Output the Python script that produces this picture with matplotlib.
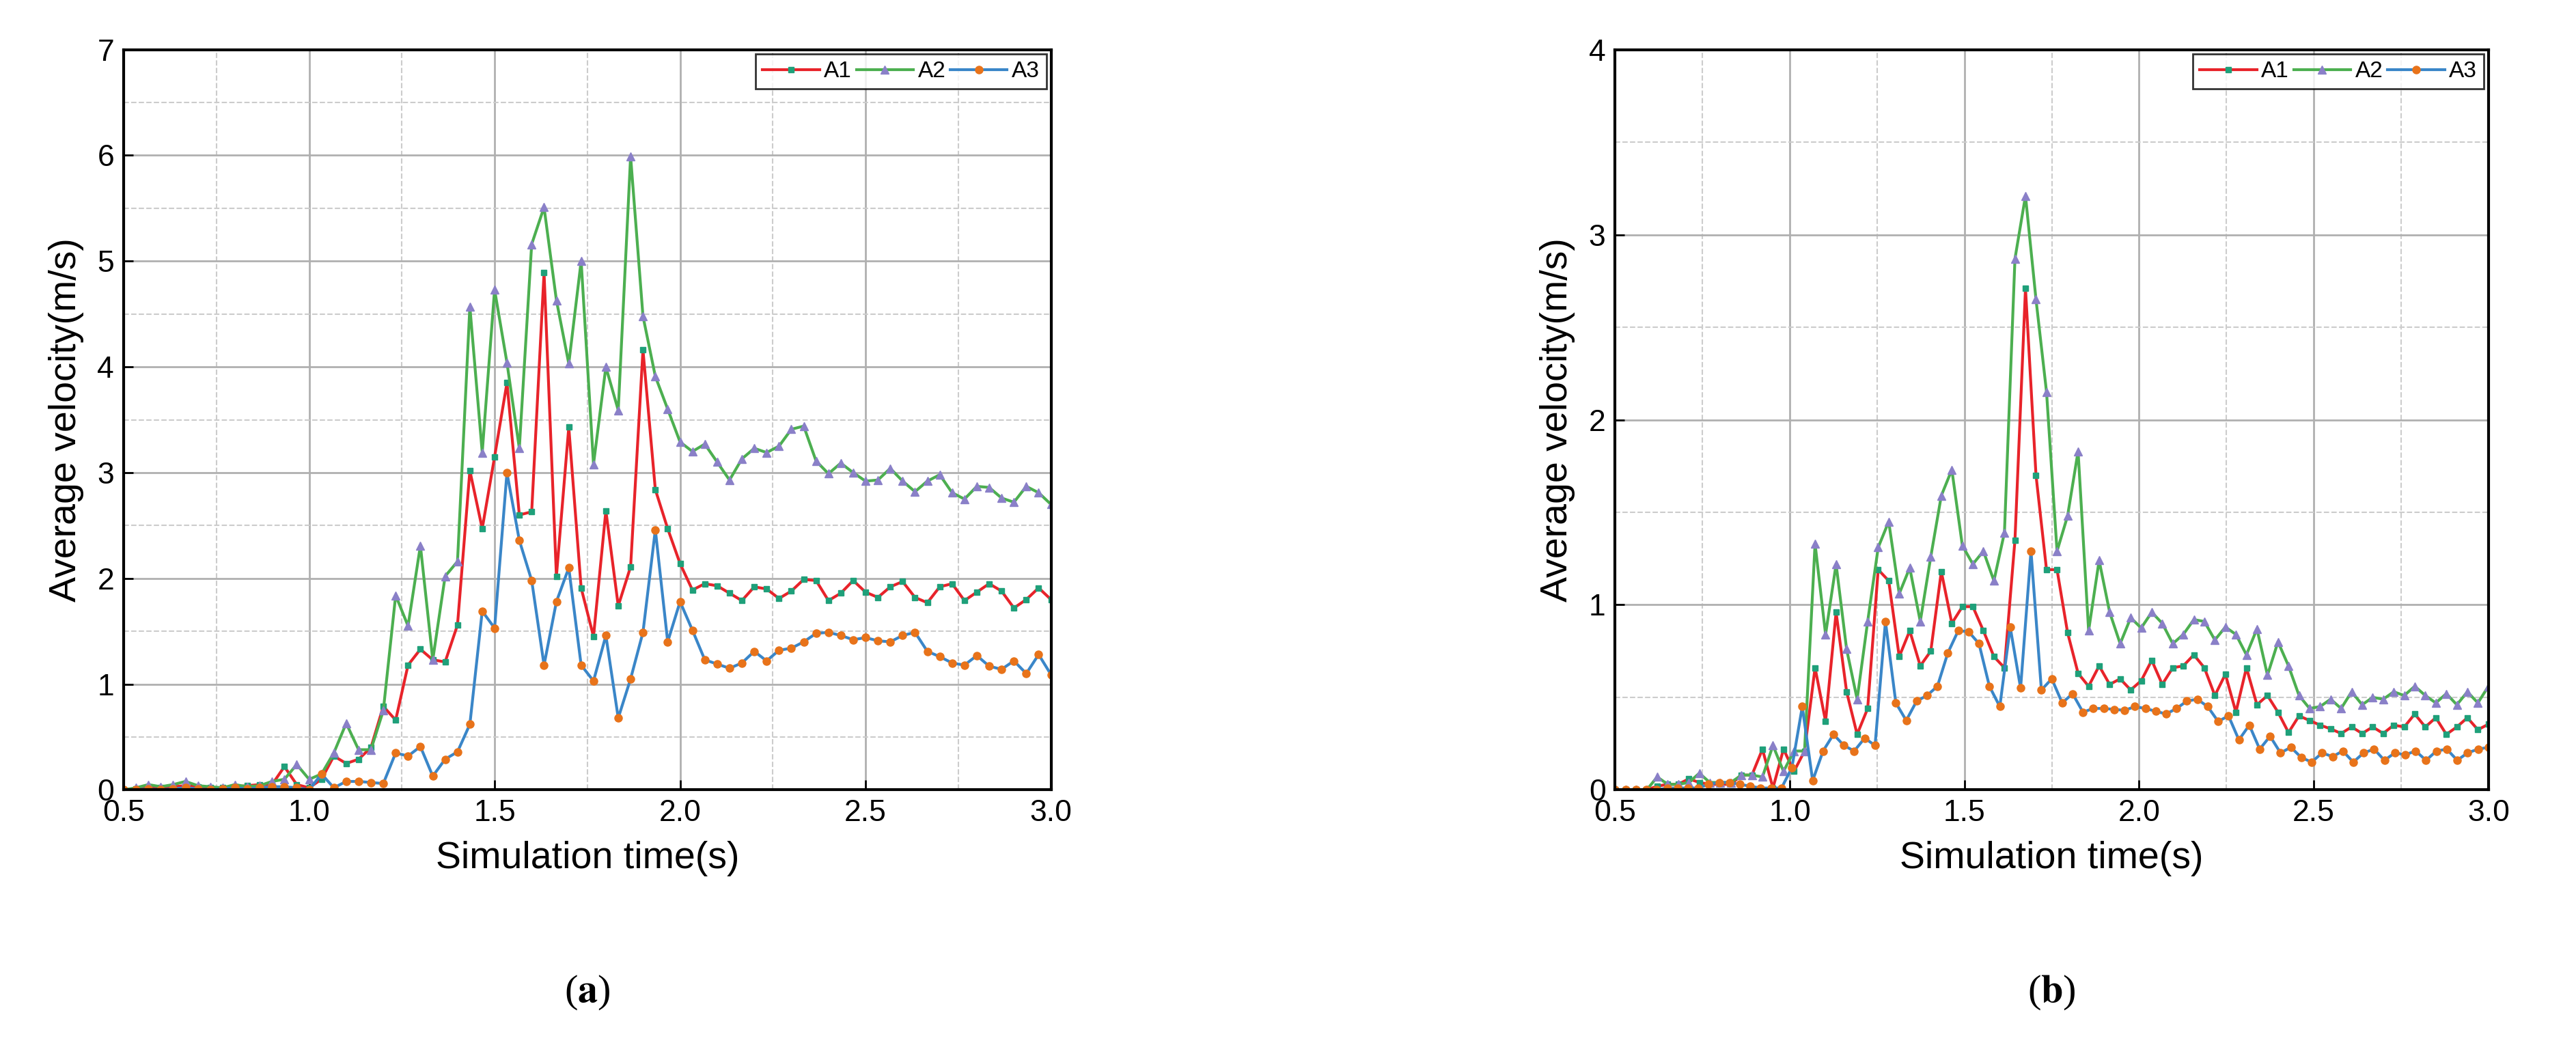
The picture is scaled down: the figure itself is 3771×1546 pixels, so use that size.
import numpy as np
import matplotlib
matplotlib.use("Agg")
import matplotlib.pyplot as plt
from matplotlib.ticker import MultipleLocator, FormatStrFormatter

# ---------- data panel (a): sampled every 1/30 s from 0.5 to 3.0 ----------
a_A1 = [0,0.01,0.02,0.02,0.03,0.04,0.03,0.02,0.02,0.03,0.04,0.05,0.05,0.22,0.05,0.02,0.1,0.32,0.25,0.29,0.4,0.79,
        0.66,1.18,1.33,1.23,1.21,1.56,3.02,2.47,3.15,3.85,2.6,2.63,4.89,2.02,3.43,1.91,1.45,2.64,1.74,2.11,
        4.16,2.84,2.47,2.14,1.89,1.95,1.93,1.86,1.79,1.92,1.9,1.81,1.88,1.99,1.98,1.79,1.86,1.98,1.87,1.82,
        1.92,1.97,1.82,1.77,1.92,1.95,1.79,1.87,1.95,1.88,1.72,1.8,1.91,1.8]
a_A2 = [0,0.02,0.05,0.03,0.05,0.08,0.04,0.03,0.02,0.05,0.03,0.04,0.08,0.1,0.24,0.1,0.15,0.35,0.63,0.38,0.38,0.75,
        1.84,1.55,2.31,1.23,2.02,2.16,4.57,3.19,4.73,4.04,3.23,5.16,5.51,4.63,4.03,5.0,3.08,4.0,3.59,5.99,
        4.48,3.91,3.6,3.29,3.2,3.27,3.1,2.93,3.13,3.23,3.19,3.25,3.41,3.44,3.11,2.99,3.09,3.0,2.92,2.93,
        3.04,2.92,2.82,2.92,2.98,2.81,2.75,2.87,2.86,2.76,2.72,2.87,2.81,2.7]
a_A3 = [0,0,0.01,0,0.01,0.02,0.01,0,0.01,0.02,0.01,0.02,0.03,0.03,0.02,0.0,0.15,0.02,0.08,0.08,0.07,0.06,
        0.35,0.32,0.41,0.13,0.29,0.36,0.62,1.69,1.53,3.0,2.36,1.98,1.18,1.78,2.1,1.18,1.03,1.46,0.68,1.05,
        1.49,2.46,1.4,1.78,1.51,1.23,1.19,1.15,1.2,1.31,1.22,1.32,1.34,1.4,1.48,1.49,1.46,1.42,1.44,1.41,
        1.4,1.46,1.49,1.31,1.26,1.2,1.18,1.27,1.17,1.14,1.22,1.1,1.28,1.09]

# ---------- data panel (b): sampled every ~0.03 s from 0.5 to 3.0 ----------
b_A1 = [0,0,0,0,0.02,0.03,0.03,0.06,0.04,0.03,0.03,0.03,0.08,0.08,0.22,0.01,0.22,0.1,0.21,
        0.66,0.37,0.96,0.53,0.3,0.44,1.19,1.13,0.72,0.86,0.67,0.75,1.18,0.9,0.99,0.99,0.86,0.72,0.66,1.35,
        2.71,1.70,1.19,1.19,0.85,0.63,0.56,0.67,0.57,0.6,0.54,0.59,0.7,0.57,0.66,0.67,0.73,0.66,0.51,0.625,
        0.42,0.66,0.46,0.51,0.42,0.31,0.4,0.375,0.35,0.33,0.305,0.34,0.305,0.34,0.305,0.35,0.34,0.41,0.34,0.39,
        0.3,0.34,0.39,0.325,0.355]
b_A2 = [0,0,0,0,0.07,0.03,0.03,0.04,0.09,0.04,0.04,0.04,0.08,0.08,0.07,0.24,0.1,0.21,0.21,
        1.33,0.84,1.22,0.76,0.49,0.91,1.31,1.45,1.06,1.2,0.91,1.26,1.59,1.73,1.32,1.22,1.29,1.13,1.39,2.87,
        3.21,2.65,2.15,1.29,1.48,1.83,0.86,1.24,0.96,0.79,0.93,0.875,0.96,0.9,0.79,0.84,0.92,0.91,0.81,0.88,
        0.84,0.73,0.87,0.62,0.80,0.67,0.51,0.44,0.45,0.49,0.44,0.53,0.46,0.5,0.49,0.53,0.51,0.56,0.51,0.47,
        0.52,0.46,0.53,0.47,0.56]
b_A3 = [0,0,0,0,0,0.01,0.01,0.01,0.01,0.03,0.04,0.04,0.03,0.02,0.01,0.01,0.01,0.12,0.45,
        0.05,0.21,0.3,0.24,0.21,0.28,0.24,0.91,0.47,0.375,0.48,0.51,0.56,0.74,0.86,0.855,0.79,0.56,0.45,0.88,
        0.55,1.29,0.54,0.6,0.47,0.52,0.42,0.44,0.44,0.435,0.43,0.45,0.44,0.425,0.41,0.44,0.48,0.49,0.45,0.37,
        0.4,0.27,0.35,0.22,0.29,0.2,0.23,0.175,0.15,0.2,0.18,0.21,0.15,0.2,0.22,0.16,0.2,0.19,0.21,0.16,
        0.21,0.22,0.16,0.2,0.22,0.23]

series_names = ["A1", "A2", "A3"]
panel_labels = ["a", "b"]
line_colors = ["#e8232a", "#4caf50", "#3a86c8"]
marker_colors = ["#1fa07a", "#8a80c8", "#e8731a"]
markers = ["s", "^", "o"]
msizes = [6, 8, 8]

plt.rcParams['font.family'] = ['Liberation Sans', 'DejaVu Sans']
plt.rcParams['mathtext.fontset'] = 'stix'
fig = plt.figure(figsize=(37.71, 15.46), dpi=100)

panels = [
    ([0.048, 0.252, 0.360, 0.701], [a_A1, a_A2, a_A3], 7, panel_labels[0]),
    ([0.627, 0.252, 0.339, 0.701], [b_A1, b_A2, b_A3], 4, panel_labels[1]),
]
for rect, data, ymax, lab in panels:
    ax = fig.add_axes(rect)
    for name, vals, lc, mc, mk, ms in zip(series_names, data, line_colors, marker_colors, markers, msizes):
        t = np.linspace(0.5, 3.0, len(vals))
        ax.plot(t, vals, color=lc, lw=3, marker=mk, ms=ms, mfc=mc, mec=mc, label=name)
    ax.set_xlim(0.5, 3.0)
    ax.set_ylim(0, ymax)
    ax.xaxis.set_major_locator(MultipleLocator(0.5))
    ax.xaxis.set_minor_locator(MultipleLocator(0.25))
    ax.yaxis.set_major_locator(MultipleLocator(1))
    ax.yaxis.set_minor_locator(MultipleLocator(0.5))
    ax.xaxis.set_major_formatter(FormatStrFormatter('%.1f'))
    ax.grid(which='major', color='#b0b0b0', lw=2)
    ax.grid(which='minor', color='#cccccc', lw=1.5, ls='--')
    ax.tick_params(which='major', direction='in', length=10, width=2, labelsize=32, pad=10)
    ax.tick_params(which='minor', length=0)
    for s in ax.spines.values():
        s.set_linewidth(3)
    ax.set_xlabel("Simulation time(s)", fontsize=40, labelpad=14)
    ax.set_ylabel("Average velocity(m/s)", fontsize=40, labelpad=14)
    leg = ax.legend(loc='upper right', ncol=3, fontsize=24, frameon=True, fancybox=False,
                    handlelength=2.5, handletextpad=0.2, columnspacing=0.2,
                    borderaxespad=0.2, borderpad=0.3)
    leg.get_frame().set_edgecolor('black')
    leg.get_frame().set_linewidth(2)
    cx = rect[0] + rect[2] / 2
    fig.text(cx, 0.06, r"($\mathbf{" + lab + r"}$)", fontsize=42, ha='center', va='center',
             family='Liberation Serif')

fig.savefig("out.png", dpi=100)
